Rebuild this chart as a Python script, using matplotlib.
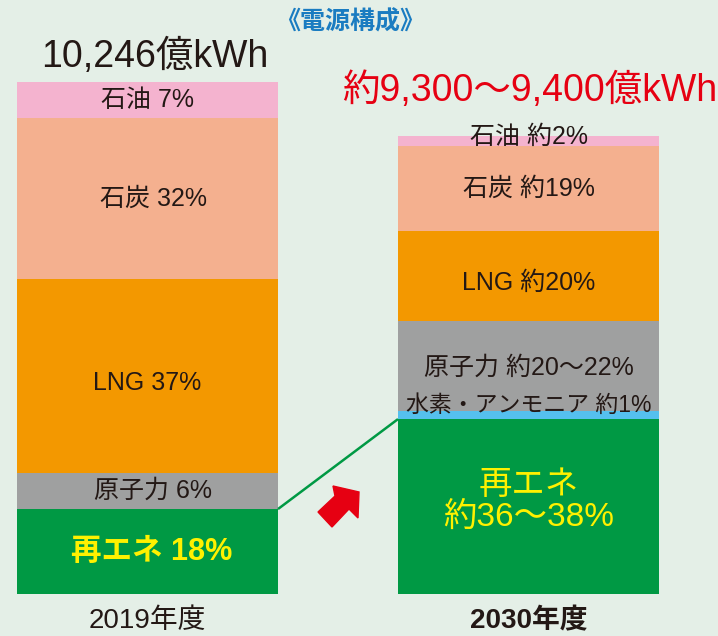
import matplotlib
matplotlib.use("Agg")
import matplotlib.pyplot as plt
from matplotlib.patches import Polygon

plt.rcParams["font.family"] = ["Liberation Sans", "Noto Sans CJK JP", "DejaVu Sans"]

# --- data (segment heights as drawn, in 億kWh; shares as printed) ---
years = ["2019年度", "2030年度"]
totals = ["10,246億kWh", "約9,300〜9,400億kWh"]

src_2019 = ["再エネ", "原子力", "LNG", "石炭", "石油"]
val_2019 = [1700, 720, 3880, 3225, 720]
lab_2019 = ["再エネ 18%", "原子力 6%", "LNG 37%", "石炭 32%", "石油 7%"]

src_2030 = ["再エネ", "水素・アンモニア", "原子力", "LNG", "石炭", "石油"]
val_2030 = [3500, 160, 1800, 1800, 1700, 200]
lab_2030 = ["再エネ\n約36〜38%", "水素・アンモニア 約1%", "原子力 約20〜22%",
            "LNG 約20%", "石炭 約19%", "石油 約2%"]

colors = {
    "再エネ": "#009944",
    "水素・アンモニア": "#55c0ee",
    "原子力": "#9fa0a0",
    "LNG": "#f39800",
    "石炭": "#f4b08f",
    "石油": "#f4b3cf",
}

BG = "#e4efe7"
DARK = "#231815"
W, H = 718, 636

fig = plt.figure(figsize=(W / 100, H / 100), dpi=100, facecolor=BG)
ax = fig.add_axes([0, 0, 1, 1])
ax.set_facecolor(BG)

# map the pixel layout of the original onto data limits
bar_w = 261 / 381
px_per_unit = 512 / sum(val_2019)
ax.set_xlim(-147.5 / 381, 1 + (W - 528.5) / 381)
ax.set_ylim(-(H - 594) / px_per_unit, 594 / px_per_unit)
ax.axis("off")


def stack(x, srcs, vals):
    bottom = 0
    mids = []
    for s, v in zip(srcs, vals):
        ax.bar(x, v, bar_w, bottom=bottom, color=colors[s], linewidth=0)
        mids.append(bottom + v / 2)
        bottom += v
    return mids, bottom


def px(n):
    return n / px_per_unit


mids19, top19 = stack(0, src_2019, val_2019)
mids30, top30 = stack(1, src_2030, val_2030)

# in-bar labels (offsets in pixels, + = down)
off19 = [0, 0, 7, 0, 0]
for i, (lab, m) in enumerate(zip(lab_2019, mids19)):
    y = m - px(off19[i])
    if i == 0:
        ax.text(0.01, y, lab, ha="center", va="center", fontsize=22,
                color="#fff100", fontweight="bold")
    else:
        ax.text(0.015 if i in (1, 3) else 0, y, lab, ha="center", va="center",
                fontsize=18, color=DARK)

off30 = [-5, -10, 2, 7, 0, -4]
for i, (lab, m) in enumerate(zip(lab_2030, mids30)):
    y = m - px(off30[i])
    if i == 0:
        ax.text(1, y, lab, ha="center", va="center", fontsize=24,
                color="#fff100", linespacing=1.05)
    elif i == 1:
        ax.text(1, y, lab, ha="center", va="center", fontsize=16.5, color=DARK)
    else:
        ax.text(1, y, lab, ha="center", va="center", fontsize=18, color=DARK)

# connector between renewable tops
ax.plot([bar_w / 2, 1 - bar_w / 2], [val_2019[0], val_2030[0]],
        color="#009944", lw=1.8, solid_capstyle="butt")

# totals above the bars
ax.text(0.02, top19 + px(25), totals[0], ha="center", va="center",
        fontsize=27, color=DARK)
ax.text(1 + (717 - 528.5) / 381, top30 + px(46), totals[1], ha="right",
        va="center", fontsize=27, color="#e60012")

# year labels
ax.text(0, -px(27), years[0], ha="center", va="center",
        fontsize=20, color=DARK)
ax.text(1, -px(27), years[1], ha="center", va="center",
        fontsize=20, color=DARK, fontweight="bold")

# title
fig.text(350 / W, 1 - 22 / H, "《電源構成》", ha="center", va="center",
         fontsize=18, color="#1a7cc1", fontweight="bold")

# red block arrow (decoration, figure pixels)
arrow = [(333, 486), (359, 492), (358, 518), (349, 509), (332, 527),
         (318, 512), (335, 496)]
fig.patches.append(Polygon([(x / W, 1 - y / H) for x, y in arrow],
                           closed=True, color="#e60012",
                           transform=fig.transFigure, figure=fig))

fig.savefig("out.png", dpi=100, facecolor=BG)
